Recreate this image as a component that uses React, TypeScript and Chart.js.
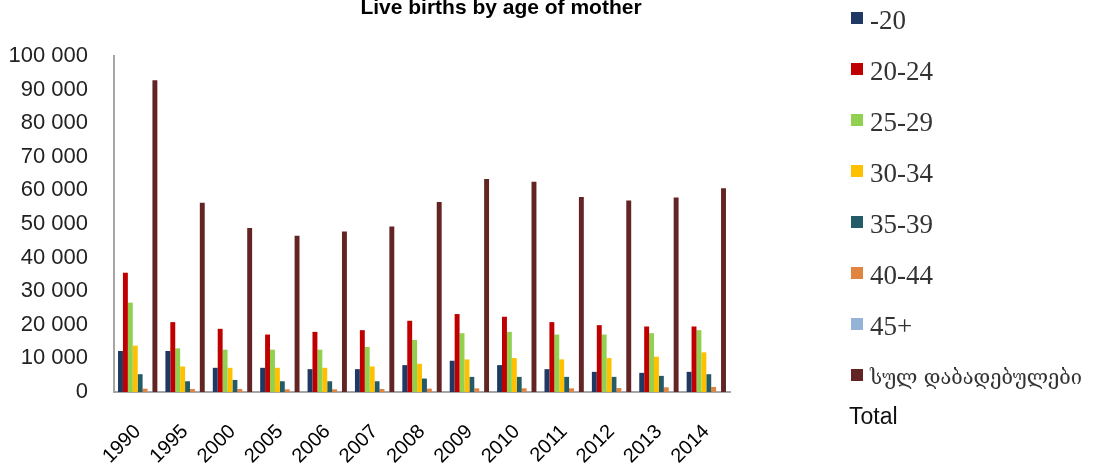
import React, { useEffect, useRef } from "react";
import { Chart, registerables } from "chart.js";

Chart.register(...registerables);

const chartTitle = "Live births by age of mother";
const years = ["1990", "1995", "2000", "2005", "2006", "2007", "2008", "2009", "2010", "2011", "2012", "2013", "2014"];
const seriesLabels = ["-20", "20-24", "25-29", "30-34", "35-39", "40-44", "45+", "სულ  დაბადებულები"];
const totalSubLabel = "Total";
const seriesColors = ["#1F3864", "#C00000", "#92D050", "#FFC000", "#235C68", "#E0843F", "#95B3D7", "#632523"];

const under20 = [12200, 12200, 7200, 7200, 6800, 6800, 8000, 9300, 8000, 6800, 6000, 5700, 6000];
const age20_24 = [35500, 20800, 18800, 17100, 17900, 18400, 21200, 23200, 22400, 20800, 19900, 19500, 19500];
const age25_29 = [26600, 13000, 12600, 12600, 12600, 13400, 15500, 17500, 17900, 17100, 17100, 17500, 18400];
const age30_34 = [13800, 7600, 7200, 7200, 7200, 7600, 8400, 9700, 10100, 9700, 10100, 10500, 11800];
const age35_39 = [5300, 3200, 3600, 3200, 3200, 3200, 4000, 4500, 4500, 4500, 4500, 4800, 5300];
const age40_44 = [1000, 900, 900, 800, 800, 900, 1000, 1100, 1100, 1100, 1200, 1400, 1500];
const age45plus = [150, 90, 70, 60, 60, 60, 70, 80, 80, 80, 90, 90, 100];
const totalBirths = [92815, 56341, 48837, 46512, 47795, 49287, 56569, 63377, 62585, 58014, 57031, 57878, 60635];

const seriesValues = [under20, age20_24, age25_29, age30_34, age35_39, age40_44, age45plus, totalBirths];

const yTickValues = [0, 10000, 20000, 30000, 40000, 50000, 60000, 70000, 80000, 90000, 100000];

const sansFont = "'Liberation Sans', Arial, sans-serif";

function formatThousands(v: number): string {
  const s = Math.round(v).toString();
  return s.replace(/\B(?=(\d{3})+(?!\d))/g, " ");
}

export default function App() {
  const canvasRef = useRef<HTMLCanvasElement | null>(null);

  useEffect(() => {
    const canvas = canvasRef.current;
    if (!canvas) return;
    const chart = new Chart(canvas, {
      type: "bar",
      data: {
        labels: years,
        datasets: seriesLabels.map((label, i) => ({
          label,
          data: seriesValues[i],
          backgroundColor: seriesColors[i],
          borderWidth: 0,
          categoryPercentage: 0.83,
          barPercentage: 1,
          yAxisID: "y",
        })),
      },
      options: {
        animation: false,
        responsive: true,
        maintainAspectRatio: false,
        layout: { padding: 0 },
        plugins: {
          legend: { display: false },
          tooltip: { enabled: false },
          title: {
            display: true,
            text: chartTitle,
            color: "#000000",
            font: { family: sansFont, size: 21, weight: "bold" },
            padding: { top: -4, bottom: 34.8 },
          },
        },
        scales: {
          x: {
            grid: { display: false, drawTicks: false },
            border: { display: true, color: "#A6A6A6", width: 2 },
            ticks: {
              autoSkip: false,
              minRotation: 45,
              maxRotation: 45,
              padding: 28,
              labelOffset: 0,
              color: "#000000",
              font: { family: sansFont, size: 20 },
            },
            afterFit: (s: any) => {
              s.height = 76;
            },
          },
          y: {
            position: "left",
            min: 0,
            max: 100000,
            grid: { display: false, drawTicks: false },
            border: { display: true, color: "#A6A6A6", width: 2 },
            afterBuildTicks: (s: any) => {
              s.ticks = yTickValues.map((v) => ({ value: v }));
            },
            ticks: {
              padding: 26,
              color: "#222222",
              font: { family: sansFont, size: 22 },
              callback: (v: any) => formatThousands(Number(v)),
            },
            afterFit: (s: any) => {
              s.width = 114;
            },
          },
          pad: {
            type: "linear",
            position: "right",
            display: true,
            grid: { display: false, drawTicks: false },
            border: { display: false },
            ticks: { display: false },
            afterFit: (s: any) => {
              s.width = 272;
            },
          },
        },
      },
    });
    return () => chart.destroy();
  }, []);

  return (
    <div style={{ position: "fixed", left: 0, top: 0, width: 1101, height: 468, background: "#ffffff", overflow: "hidden" }}>
      <div style={{ position: "absolute", left: 0, top: 0, width: 1002, height: 468 }}>
        <canvas ref={canvasRef} />
      </div>
      <div style={{ position: "absolute", left: 851, top: -8, width: 250 }}>
        {seriesLabels.map((label, i) => (
          <div key={label} style={{ height: 51, display: "flex", alignItems: "center", whiteSpace: "nowrap" }}>
            <span style={{ display: "inline-block", width: 12, height: 12, background: seriesColors[i], marginRight: 7, flex: "none" }} />
            <span
              style={{
                fontFamily: i === seriesLabels.length - 1 ? "'DejaVu Serif', 'Liberation Serif', serif" : "'Liberation Serif', 'Times New Roman', serif",
                fontSize: i === seriesLabels.length - 1 ? 20 : 27,
                color: "#333333",
                lineHeight: "26px",
                position: "relative",
                top: 2,
              }}
            >
              {label}
            </span>
          </div>
        ))}
      </div>
      <div
        style={{
          position: "absolute",
          left: 849,
          top: 404,
          fontFamily: sansFont,
          fontSize: 23,
          lineHeight: "25px",
          color: "#111111",
        }}
      >
        {totalSubLabel}
      </div>
    </div>
  );
}
